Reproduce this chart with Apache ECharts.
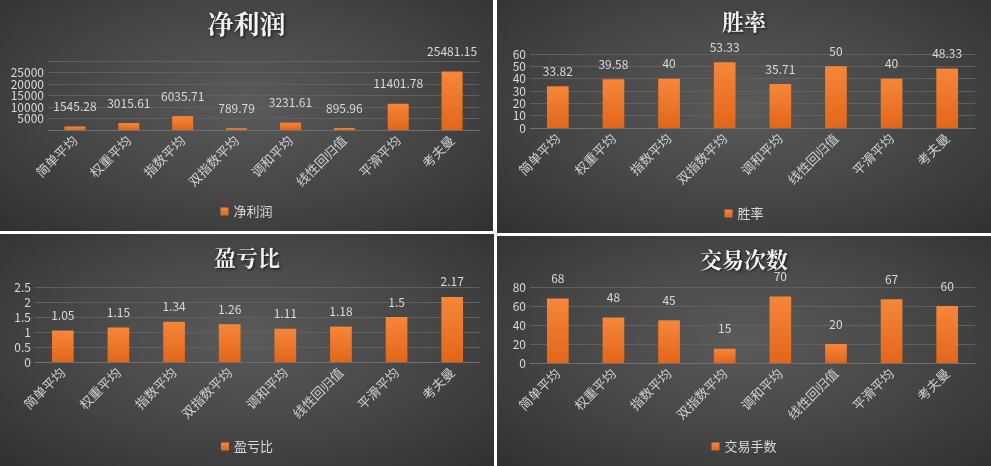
<!DOCTYPE html>
<html>
<head>
<meta charset="utf-8">
<script src="https://cdn.jsdelivr.net/npm/echarts@6/dist/echarts.min.js"></script>
<style>
  body { margin: 0; background: #fff; width: 991px; height: 466px; position: relative; overflow: hidden; }
  .panel { position: absolute; background: radial-gradient(ellipse at 50% 45%, #5a5a5a 0%, #454545 55%, #303030 100%); }
</style>
</head>
<body>
<div id="c1" class="panel" style="left:0;top:0;width:493px;height:231px"></div>
<div id="c2" class="panel" style="left:497px;top:0;width:494px;height:233px"></div>
<div id="c3" class="panel" style="left:0;top:234px;width:494px;height:232px"></div>
<div id="c4" class="panel" style="left:497px;top:236px;width:494px;height:230px"></div>
<script>
// 八种均线策略
const categories = ['简单平均', '权重平均', '指数平均', '双指数平均', '调和平均', '线性回归值', '平滑平均', '考夫曼'];
const profit = [1545.28, 3015.61, 6035.71, 789.79, 3231.61, 895.96, 11401.78, 25481.15];
const winRate = [33.82, 39.58, 40, 53.33, 35.71, 50, 40, 48.33];
const plRatio = [1.05, 1.15, 1.34, 1.26, 1.11, 1.18, 1.5, 2.17];
const trades = [68, 48, 45, 15, 70, 20, 67, 60];

const font = '"Noto Sans CJK SC", sans-serif';

// 封装一个面板
function drawPanel(id, title, name, data, yMax, yStep, grid, titleTop, titleSize, labelGap) {
  const myChart = echarts.init(document.getElementById(id), null, { renderer: 'canvas' });
  myChart.setOption({
    backgroundColor: 'transparent',
    title: {
      text: title, left: 'center', top: titleTop,
      textStyle: { color: '#f2f2f2', fontSize: titleSize, fontWeight: 'bold', fontFamily: '"Noto Serif CJK SC", "Noto Sans CJK SC", serif',
        textShadowColor: 'rgba(0,0,0,0.8)', textShadowBlur: 3, textShadowOffsetX: 1, textShadowOffsetY: 1 }
    },
    legend: {
      bottom: 8, itemWidth: 8, itemHeight: 8, icon: 'rect', itemGap: 4,
      textStyle: { color: '#d9d9d9', fontSize: 13, fontFamily: font }
    },
    grid: grid,
    xAxis: {
      type: 'category', data: categories,
      axisLine: { lineStyle: { color: '#707070' } },
      axisTick: { show: false },
      axisLabel: { rotate: 45, color: '#d0d0d0', fontSize: 13, fontFamily: font, margin: 8 }
    },
    yAxis: {
      type: 'value', min: 0, max: yMax, interval: yStep,
      axisLabel: { color: '#d9d9d9', fontSize: 12, fontFamily: font, margin: 4, formatter: v => String(v) },
      splitLine: { lineStyle: { color: '#606060' } }
    },
    series: [{
      name: name, type: 'bar', data: data, barWidth: '39%',
      itemStyle: { color: new echarts.graphic.LinearGradient(0, 0, 0, 1, [
        { offset: 0, color: '#f5873a' }, { offset: 1, color: '#e2661a' }]) },
      label: { show: true, position: 'top', distance: labelGap, color: '#d9d9d9', fontSize: 12, fontFamily: font }
    }]
  });
}

drawPanel('c1', '净利润', '净利润', profit, 30000, 5000, { left: 48, right: 14, top: 61, height: 69 }, 6, 26, 14);
drawPanel('c2', '胜率', '胜率', winRate, 60, 10, { left: 33, right: 16, top: 54, height: 74 }, 6, 22, 9);
drawPanel('c3', '盈亏比', '盈亏比', plRatio, 2.5, 0.5, { left: 35, right: 14, top: 53, height: 75 }, 8, 22, 9);
drawPanel('c4', '交易次数', '交易手数', trades, 80, 20, { left: 33, right: 16, top: 51, height: 76 }, 8, 22, 14);
</script>
</body>
</html>
